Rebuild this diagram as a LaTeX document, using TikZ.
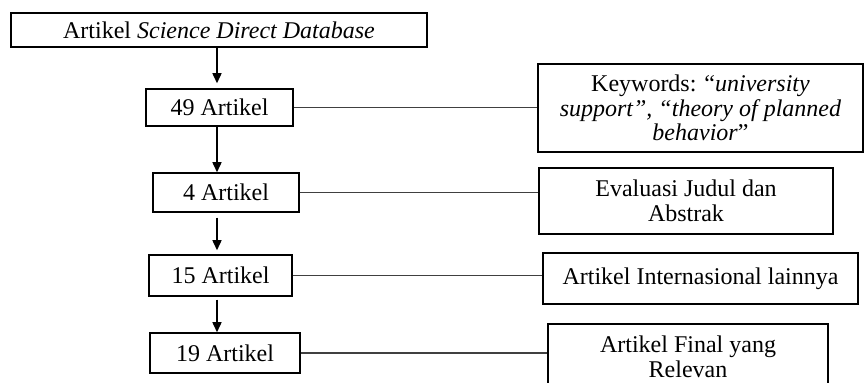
\documentclass[tikz,border=0pt]{standalone}
\usepackage{fontspec}
\setmainfont{Liberation Serif}
\usetikzlibrary{arrows.meta}
\tikzset{
  box/.style={draw=black, line width=0.75pt, inner sep=0pt, align=center,
    font=\fontsize{12}{12.3}\selectfont, text=black},
  flow/.style={draw=black, line width=0.75pt, -{Triangle[length=5pt,width=4.5pt]}},
  link/.style={draw=black!75, line width=0.7pt}
}
\begin{document}
\begin{tikzpicture}[x=0.5pt,y=-0.5pt]
\useasboundingbox (0,0) rectangle (864,383);
\node[box, minimum width=208pt, minimum height=17pt] (top) at (219,30) {Artikel \textit{Science Direct Database}};
\node[box, minimum width=73.5pt, minimum height=18.5pt] (b49) at (219.5,107.5) {49 Artikel};
\node[box, minimum width=162.5pt, minimum height=44pt] (kw) at (700.5,108) {Keywords: “\textit{university}\\\textit{support”, “theory of planned}\\\textit{behavior}”};
\node[box, minimum width=73pt, minimum height=19.5pt] (b4) at (226,192.5) {4 Artikel};
\node[box, minimum width=147pt, minimum height=33pt] (ev) at (686,201) {Evaluasi Judul dan\\Abstrak};
\node[box, minimum width=71.5pt, minimum height=20.5pt] (b15) at (220.5,275.5) {15 Artikel};
\node[box, minimum width=157.5pt, minimum height=25.5pt] (ai) at (700.5,278.5) {Artikel Internasional lainnya};
\node[box, minimum width=75pt, minimum height=20pt] (b19) at (225,353) {19 Artikel};
\node[box, minimum width=140pt, minimum height=33pt] (af) at (688,357) {Artikel Final yang\\Relevan};
\coordinate (ax) at (217,0);
\draw[flow] (top.south -| ax) -- ([yshift=2.5pt]b49.north -| ax);
\draw[flow] (b49.south -| ax) -- (b4.north -| ax);
\draw[flow] ([yshift=-2.5pt]b4.south -| ax) -- ([yshift=2pt]b15.north -| ax);
\draw[flow] ([yshift=-1.5pt]b15.south -| ax) -- (b19.north -| ax);
\draw[link] (b49.east) -- (b49.east -| kw.west);
\draw[link] (b4.east) -- (b4.east -| ev.west);
\draw[link] (b15.east) -- (b15.east -| ai.west);
\draw[link] (b19.east) -- (b19.east -| af.west);
\end{tikzpicture}
\end{document}
